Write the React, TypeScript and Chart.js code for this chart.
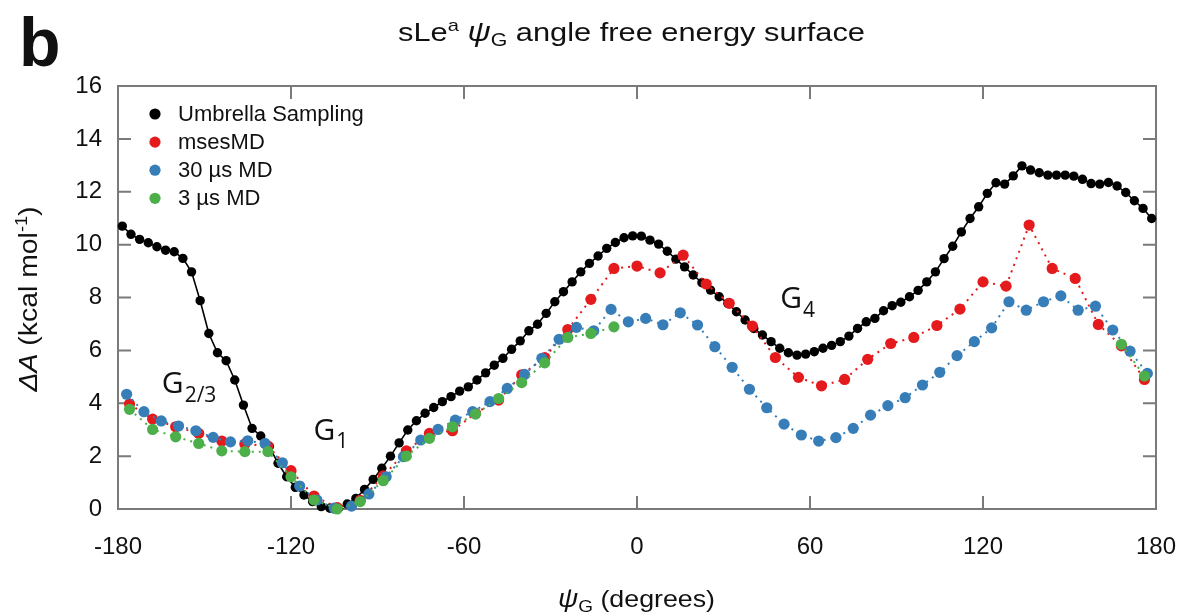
import React, { useEffect, useRef } from 'react';
import { Chart, registerables } from 'chart.js';

Chart.register(...registerables);

// ---------------- data ----------------
const umbrellaAngles = [
  -178.5, -175.5, -172.5, -169.5, -166.5, -163.5, -160.5, -157.5, -154.5, -151.5,
  -148.5, -145.5, -142.5, -139.5, -136.5, -133.5, -130.5, -127.5, -124.5, -121.5,
  -118.5, -115.5, -112.5, -109.5, -106.5, -103.5, -100.5, -97.5, -94.5, -91.5,
  -88.5, -85.5, -82.5, -79.5, -76.5, -73.5, -70.5, -67.5, -64.5, -61.5,
  -58.5, -55.5, -52.5, -49.5, -46.5, -43.5, -40.5, -37.5, -34.5, -31.5,
  -28.5, -25.5, -22.5, -19.5, -16.5, -13.5, -10.5, -7.5, -4.5, -1.5,
  1.5, 4.5, 7.5, 10.5, 13.5, 16.5, 19.5, 22.5, 25.5, 28.5,
  31.5, 34.5, 37.5, 40.5, 43.5, 46.5, 49.5, 52.5, 55.5, 58.5,
  61.5, 64.5, 67.5, 70.5, 73.5, 76.5, 79.5, 82.5, 85.5, 88.5,
  91.5, 94.5, 97.5, 100.5, 103.5, 106.5, 109.5, 112.5, 115.5, 118.5,
  121.5, 124.5, 127.5, 130.5, 133.5, 136.5, 139.5, 142.5, 145.5, 148.5,
  151.5, 154.5, 157.5, 160.5, 163.5, 166.5, 169.5, 172.5, 175.5, 178.5,
];
const umbrellaValues = [
  10.70, 10.39, 10.20, 10.07, 9.92, 9.79, 9.73, 9.48, 8.97, 7.88,
  6.64, 5.91, 5.61, 4.88, 3.93, 3.05, 2.76, 2.36, 1.73, 1.22,
  0.82, 0.53, 0.28, 0.09, 0.03, 0.03, 0.19, 0.40, 0.74, 1.12,
  1.54, 2.00, 2.50, 2.99, 3.34, 3.62, 3.84, 4.06, 4.25, 4.46,
  4.62, 4.88, 5.15, 5.44, 5.70, 6.04, 6.36, 6.74, 6.99, 7.40,
  7.84, 8.22, 8.59, 8.97, 9.29, 9.57, 9.86, 10.08, 10.26, 10.33,
  10.32, 10.17, 10.02, 9.75, 9.45, 9.16, 8.85, 8.56, 8.28, 8.03,
  7.78, 7.46, 7.15, 6.83, 6.58, 6.33, 6.08, 5.91, 5.82, 5.86,
  5.95, 6.08, 6.19, 6.33, 6.54, 6.83, 7.08, 7.21, 7.50, 7.69,
  7.82, 8.03, 8.27, 8.59, 8.97, 9.47, 9.94, 10.48, 10.99, 11.43,
  11.94, 12.34, 12.29, 12.60, 12.98, 12.82, 12.72, 12.63, 12.63, 12.63,
  12.59, 12.47, 12.31, 12.29, 12.35, 12.22, 11.97, 11.66, 11.37, 10.99,
];

const msesAngles = [
  -176, -168, -160, -152, -144, -136, -128, -120, -112, -104, -96, -88, -80, -72, -64,
  -56, -48, -40, -32, -24, -16, -8, 0, 8, 16, 24, 32, 40, 48, 56,
  64, 72, 80, 88, 96, 104, 112, 120, 128, 136, 144, 152, 160, 168, 176,
];
const msesValues = [
  3.97, 3.40, 3.11, 2.86, 2.57, 2.46, 2.38, 1.45, 0.49, 0.05, 0.33, 1.25, 2.20, 2.86, 2.96,
  3.62, 4.12, 5.07, 5.73, 6.79, 7.93, 9.10, 9.19, 8.93, 9.60, 8.51, 7.78, 6.92, 5.73, 4.98,
  4.66, 4.90, 5.66, 6.26, 6.49, 6.94, 7.56, 8.59, 8.43, 10.74, 9.10, 8.72, 6.98, 6.17, 4.90,
];

const md30Angles = [
  -177, -171, -165, -159, -153, -147, -141, -135, -129, -123,
  -117, -111, -105, -99, -93, -87, -81, -75, -69, -63,
  -57, -51, -45, -39, -33, -27, -21, -15, -9, -3,
  3, 9, 15, 21, 27, 33, 39, 45, 51, 57,
  63, 69, 75, 81, 87, 93, 99, 105, 111, 117,
  123, 129, 135, 141, 147, 153, 159, 165, 171, 177,
];
const md30Values = [
  4.34, 3.68, 3.33, 3.14, 2.96, 2.71, 2.54, 2.58, 2.48, 1.75,
  0.87, 0.34, 0.03, 0.11, 0.57, 1.22, 1.98, 2.61, 3.01, 3.36,
  3.68, 4.06, 4.56, 5.09, 5.70, 6.42, 6.87, 6.74, 7.55, 7.08,
  7.21, 6.97, 7.42, 6.96, 6.14, 5.36, 4.53, 3.83, 3.21, 2.80,
  2.57, 2.70, 3.05, 3.55, 3.91, 4.21, 4.69, 5.17, 5.80, 6.33,
  6.85, 7.84, 7.52, 7.84, 8.06, 7.52, 7.67, 6.77, 5.97, 5.13,
];

const md3Angles = [
  -176, -168, -160, -152, -144, -136, -128, -120, -112, -104, -96,
  -88, -80, -72, -64, -56, -48, -40, -32, -24, -16, -8, 168, 176,
];
const md3Values = [
  3.77, 3.01, 2.73, 2.48, 2.20, 2.17, 2.17, 1.22, 0.34, 0.00, 0.28,
  1.07, 2.00, 2.67, 3.11, 3.59, 4.18, 4.78, 5.53, 6.49, 6.64, 6.89, 6.23, 5.03,
];

const seriesNames = ['Umbrella Sampling', 'msesMD', '30 µs MD', '3 µs MD'];
const seriesColors = ['#000000', '#e41a1c', '#377eb8', '#4daf4a'];

const xTickValues = [-180, -120, -60, 0, 60, 120, 180];
const yTickValues = [0, 2, 4, 6, 8, 10, 12, 14, 16];

const annoMain = ['G', 'G', 'G'];
const annoSub = ['2/3', '1', '4'];
const annoAngle = [-164.8, -112.2, 49.7];
const annoEnergy = [4.37, 2.61, 7.59];

// ---------------- helpers ----------------
const SANS = '"Liberation Sans", Arial, Helvetica, sans-serif';
const ANNO = '"Open Sans", "Noto Sans", sans-serif';

type Run = { t: string; s: number; it?: boolean; b?: boolean; dy?: number; f?: string };

function fontOf(r: Run) {
  return `${r.it ? 'italic ' : ''}${r.b ? 'bold ' : ''}${r.s}px ${r.f || SANS}`;
}

function drawRuns(ctx: CanvasRenderingContext2D, runs: Run[], x: number, y: number, align: 'left' | 'center', fit?: number) {
  let w = 0;
  const widths = runs.map((r) => {
    ctx.font = fontOf(r);
    const m = ctx.measureText(r.t).width;
    w += m;
    return m;
  });
  const sx = fit ? fit / w : 1;
  const total = w * sx;
  const start = align === 'center' ? x - total / 2 : x;
  ctx.save();
  ctx.translate(start, y);
  ctx.scale(sx, 1);
  ctx.textAlign = 'left';
  ctx.textBaseline = 'alphabetic';
  let px = 0;
  runs.forEach((r, i) => {
    ctx.font = fontOf(r);
    ctx.fillText(r.t, px, r.dy || 0);
    px += widths[i];
  });
  ctx.restore();
}

const decorPlugin = {
  id: 'decor',
  beforeDatasetsDraw(chart: any) {
    const ctx: CanvasRenderingContext2D = chart.ctx;
    const { left, right, top, bottom } = chart.chartArea;
    const xs = chart.scales.x;
    const ys = chart.scales.y;
    ctx.save();
    ctx.strokeStyle = '#7a7a7a';
    ctx.lineWidth = 2;
    ctx.strokeRect(left, top, right - left, bottom - top);
    const tl = 13;
    ctx.beginPath();
    xTickValues.forEach((v) => {
      const px = xs.getPixelForValue(v);
      if (Math.abs(px - left) < 2 || Math.abs(px - right) < 2) return;
      ctx.moveTo(px, bottom);
      ctx.lineTo(px, bottom - tl);
      ctx.moveTo(px, top);
      ctx.lineTo(px, top + tl);
    });
    yTickValues.forEach((v) => {
      const py = ys.getPixelForValue(v);
      if (Math.abs(py - top) < 2 || Math.abs(py - bottom) < 2) return;
      ctx.moveTo(left, py);
      ctx.lineTo(left + tl, py);
      ctx.moveTo(right, py);
      ctx.lineTo(right - tl, py);
    });
    ctx.stroke();
    ctx.restore();
  },
  afterDraw(chart: any) {
    const ctx: CanvasRenderingContext2D = chart.ctx;
    const xs = chart.scales.x;
    const ys = chart.scales.y;
    ctx.save();
    ctx.fillStyle = '#111';

    // panel letter
    drawRuns(ctx, [{ t: 'b', s: 68, b: true }], 19, 66, 'left');

    // title
    drawRuns(
      ctx,
      [
        { t: 'sLe', s: 26 },
        { t: 'a', s: 17, dy: -10 },
        { t: ' ', s: 26 },
        { t: 'ψ', s: 27, it: true },
        { t: 'G', s: 18, dy: 5 },
        { t: ' angle free energy surface', s: 26 },
      ],
      631.5,
      41,
      'center',
      467
    );

    // x axis title
    drawRuns(
      ctx,
      [
        { t: 'ψ', s: 25, it: true },
        { t: 'G', s: 17, dy: 5 },
        { t: ' (degrees)', s: 24 },
      ],
      636.5,
      607,
      'center',
      157
    );

    // y axis title
    ctx.save();
    ctx.translate(37, 299);
    ctx.rotate(-Math.PI / 2);
    drawRuns(
      ctx,
      [
        { t: 'ΔA', s: 25, it: true },
        { t: ' (kcal mol', s: 25 },
        { t: '-1', s: 16, dy: -10 },
        { t: ')', s: 25 },
      ],
      0,
      0,
      'center',
      185
    );
    ctx.restore();

    // legend
    const lx = 155;
    const ly0 = 114;
    const lstep = 28.1;
    seriesNames.forEach((name, i) => {
      const yy = ly0 + i * lstep;
      ctx.beginPath();
      ctx.fillStyle = seriesColors[i];
      ctx.arc(lx, yy, 5.6, 0, Math.PI * 2);
      ctx.fill();
      ctx.fillStyle = '#111';
      ctx.font = `22px ${SANS}`;
      ctx.textAlign = 'left';
      ctx.textBaseline = 'middle';
      ctx.fillText(name, 178, yy + 1);
    });

    // annotations
    annoMain.forEach((m, i) => {
      const px = xs.getPixelForValue(annoAngle[i]);
      const py = ys.getPixelForValue(annoEnergy[i]);
      ctx.fillStyle = '#111';
      ctx.font = `30px ${ANNO}`;
      ctx.textAlign = 'left';
      ctx.textBaseline = 'alphabetic';
      ctx.fillText(m, px, py);
      const w = ctx.measureText(m).width;
      ctx.font = `21px ${ANNO}`;
      ctx.fillText(annoSub[i], px + w + 1, py + 8.5);
    });

    ctx.restore();
  },
};

function pts(xs: number[], ys: number[]) {
  return xs.map((x, i) => ({ x, y: ys[i] }));
}

export default function App() {
  const canvasRef = useRef<HTMLCanvasElement | null>(null);

  useEffect(() => {
    const canvas = canvasRef.current;
    if (!canvas) return;
    const dotted = (i: number, extra: any = {}) => ({
      label: seriesNames[i],
      borderColor: seriesColors[i],
      backgroundColor: seriesColors[i],
      borderWidth: 2,
      borderDash: [2, 5],
      pointRadius: 5.6,
      pointBorderWidth: 0,
      pointBackgroundColor: seriesColors[i],
      clip: false as any,
      ...extra,
    });
    const chart = new Chart(canvas, {
      type: 'line',
      data: {
        datasets: [
          {
            label: seriesNames[0],
            data: pts(umbrellaAngles, umbrellaValues),
            borderColor: seriesColors[0],
            backgroundColor: seriesColors[0],
            borderWidth: 1.6,
            pointRadius: 4.7,
            pointBorderWidth: 0,
            pointBackgroundColor: seriesColors[0],
            order: 4,
            clip: false as any,
          },
          dotted(1, { data: pts(msesAngles, msesValues), order: 3 }),
          dotted(2, { data: pts(md30Angles, md30Values), order: 2 }),
          dotted(3, { data: pts(md3Angles, md3Values), order: 1, spanGaps: 20 }),
        ],
      },
      options: {
        animation: false,
        responsive: false,
        devicePixelRatio: 1,
        layout: { padding: { left: 0, right: 29, top: 86, bottom: 0 } },
        plugins: {
          legend: { display: false },
          tooltip: { enabled: false },
          title: { display: false },
        },
        elements: { line: { tension: 0 } },
        scales: {
          x: {
            type: 'linear',
            min: -180,
            max: 180,
            grid: { display: false, drawTicks: false },
            border: { display: false },
            ticks: {
              stepSize: 60,
              autoSkip: false,
              maxRotation: 0,
              padding: 24,
              color: '#111',
              font: { family: SANS, size: 24 },
              callback: (v: any) => String(v),
            },
            afterFit: (s: any) => {
              s.height = 106;
              s.paddingLeft = 0;
              s.paddingRight = 0;
            },
          },
          y: {
            type: 'linear',
            min: 0,
            max: 16,
            grid: { display: false, drawTicks: false },
            border: { display: false },
            ticks: {
              stepSize: 2,
              padding: 16,
              color: '#111',
              font: { family: SANS, size: 24 },
            },
            afterFit: (s: any) => {
              s.width = 118;
              s.paddingTop = 0;
              s.paddingBottom = 0;
            },
          },
        },
      },
      plugins: [decorPlugin],
    });
    const fontsAny: any = (document as any).fonts;
    if (fontsAny && fontsAny.ready) {
      fontsAny.ready.then(() => {
        try {
          chart.update();
        } catch (e) {}
      });
    }
    return () => chart.destroy();
  }, []);

  return (
    <div style={{ position: 'fixed', left: 0, top: 0, width: 1185, height: 615, background: '#fff' }}>
      <canvas ref={canvasRef} width={1185} height={615} style={{ width: 1185, height: 615, display: 'block' }} />
    </div>
  );
}
